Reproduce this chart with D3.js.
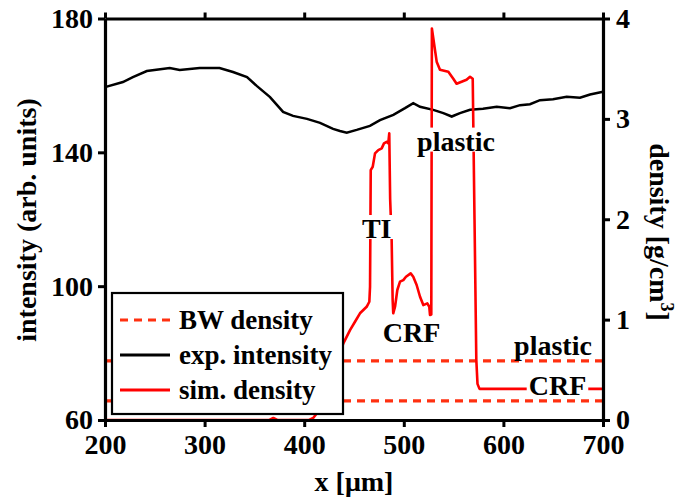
<!DOCTYPE html>
<html>
<head>
<meta charset="utf-8">
<script src="https://cdnjs.cloudflare.com/ajax/libs/d3/7.8.5/d3.min.js"></script>
<style>
  body { margin: 0; background: #fff; }
</style>
</head>
<body>
<svg width="680" height="498" font-family="Liberation Serif" font-weight="bold"></svg>
<script>
// experimental intensity (left axis)
var expX = [200, 218, 228, 242, 265, 275, 295, 315, 328.5, 342.6, 352.6, 365.7, 378.8, 388.8, 402.8,
  415.9, 429, 435.9, 442.7, 452.7, 466, 476.1, 489.5, 501.2, 509.5, 516.3, 529.6, 539.7, 548.1,
  556.4, 566.5, 579.5, 593.3, 606.6, 616.7, 626.7, 636.7, 649.8, 663.5, 676.9, 687, 700];
var expI = [159.5, 161.0, 162.5, 164.3, 165.2, 164.6, 165.2, 165.2, 164.0, 162.5, 159.8, 156.5, 152.1, 150.9, 150.0,
  148.8, 147.0, 146.4, 145.9, 146.7, 147.9, 149.6, 151.2, 153.2, 154.7, 153.6, 152.7, 151.7, 150.7,
  151.7, 152.7, 153.0, 153.6, 153.2, 154.1, 154.4, 155.6, 155.9, 156.6, 156.3, 157.3, 158.1];

// simulated density (right axis)
var simX = [200, 365, 369, 373, 405, 409, 413, 420, 430, 439.3, 446, 451, 456, 462.7, 465.4, 466.1,
  466.8, 468.8, 471.1, 474.4, 477.8, 480.1, 482.8, 484.4, 485.4, 486.3, 487.8, 488.8, 489.4,
  491.2, 493.5, 496.2, 499.5, 502.2, 506.9, 509.5, 512.9, 516.3, 519.6, 523.6, 525.6, 526.3,
  527.6, 528.2, 533, 536.3, 544.7, 549.7, 553, 558, 563, 566.5, 569.2, 571, 572.8, 574, 576, 700];
var simD = [0, 0, 0.02, 0, 0, 0.02, 0.07, 0.22, 0.48, 0.764, 0.896, 0.979, 1.063, 1.128, 1.178, 1.328,
  2.49, 2.523, 2.656, 2.689, 2.706, 2.756, 2.772, 2.756, 2.856, 2.2, 1.793, 1.195, 1.063,
  1.128, 1.295, 1.378, 1.394, 1.427, 1.461, 1.427, 1.345, 1.228, 1.145, 1.162, 1.128, 1.046,
  1.05, 3.90, 3.57, 3.49, 3.47, 3.40, 3.35, 3.37, 3.39, 3.42, 3.40, 2.0, 0.6, 0.36, 0.31, 0.31];

// bulk water density levels
var bwNames = ['plastic', 'CRF'];
var bwDensity = [0.59, 0.19];

var xTicks = [200, 300, 400, 500, 600, 700];
var leftTicks = [60, 100, 140, 180];
var rightTicks = [0, 1, 2, 3, 4];
var legendNames = ['BW density', 'exp. intensity', 'sim. density'];

var svg = d3.select('svg');
var font = 'Liberation Serif';

var x = d3.scaleLinear().domain([200, 700]).range([105, 603]);
var yL = d3.scaleLinear().domain([60, 180]).range([420, 18.5]);
var yR = d3.scaleLinear().domain([0, 4]).range([420, 18.5]);

var red = '#ff0000';
var dashRed = '#ff3010';

// BW dashed levels
svg.append('g')
  .selectAll('line')
  .data(bwDensity)
  .enter()
  .append('line')
  .attr('x1', x(200))
  .attr('x2', x(700))
  .attr('y1', function (d) { return yR(d); })
  .attr('y2', function (d) { return yR(d); })
  .attr('stroke', dashRed)
  .attr('stroke-width', 3.2)
  .attr('stroke-dasharray', '8,6');

var lineExp = d3.line()
  .x(function (d, i) { return x(expX[i]); })
  .y(function (d) { return yL(d); });

svg.append('path')
  .datum(expI)
  .attr('d', lineExp)
  .attr('fill', 'none')
  .attr('stroke', '#000')
  .attr('stroke-width', 2.5);

var lineSim = d3.line()
  .x(function (d, i) { return x(simX[i]); })
  .y(function (d) { return yR(d); });

svg.append('path')
  .datum(simD)
  .attr('d', lineSim)
  .attr('fill', 'none')
  .attr('stroke', red)
  .attr('stroke-width', 2.6)
  .attr('stroke-linejoin', 'round');

// labels with white background
function label(txt, dx, dy) {
  var g = svg.append('g');
  var t = g.append('text')
    .attr('x', x(dx))
    .attr('y', yR(dy))
    .attr('text-anchor', 'middle')
    .attr('font-size', 28)
    .text(txt);
  var b = t.node().getBBox();
  g.insert('rect', 'text')
    .attr('x', b.x - 2)
    .attr('y', b.y + 2)
    .attr('width', b.width + 4)
    .attr('height', b.height - 7)
    .attr('fill', '#fff');
}
label('TI', 472.8, 1.813);
label('plastic', 552.4, 2.684);
label('CRF', 507.7, 0.777);
label(bwNames[0], 649.8, 0.647);
label(bwNames[1], 654.3, 0.249);

// axes
function styleAxis(g) {
  g.attr('font-family', font);
  g.selectAll('path').attr('stroke-width', 3.2);
  g.selectAll('line').attr('stroke-width', 3);
  g.selectAll('text').attr('font-size', 28).attr('font-weight', 'bold').attr('fill', '#000');
}

svg.append('g')
  .attr('transform', 'translate(0,420)')
  .call(d3.axisBottom(x).tickValues(xTicks).tickSize(7).tickSizeOuter(0).tickPadding(7))
  .call(styleAxis);

svg.append('g')
  .attr('transform', 'translate(0,18.5)')
  .call(d3.axisTop(x).tickValues(xTicks).tickSize(6).tickSizeOuter(0).tickFormat(''))
  .call(styleAxis);

svg.append('g')
  .attr('transform', 'translate(105,0)')
  .call(d3.axisLeft(yL).tickValues(leftTicks).tickSize(7).tickSizeOuter(0).tickPadding(5))
  .call(styleAxis);

svg.append('g')
  .attr('transform', 'translate(603,0)')
  .call(d3.axisRight(yR).tickValues(rightTicks).tickSize(7).tickSizeOuter(0).tickPadding(6)
    .tickFormat(d3.format('d')))
  .call(styleAxis);

// axis titles
svg.append('text')
  .attr('transform', 'translate(36,220) rotate(-90)')
  .attr('text-anchor', 'middle')
  .attr('font-size', 28)
  .text('intensity (arb. units)');

var rt = svg.append('text')
  .attr('transform', 'translate(650,232) rotate(90)')
  .attr('text-anchor', 'middle')
  .attr('font-size', 28);
rt.append('tspan').text('density [g/cm');
rt.append('tspan').attr('font-size', 18).attr('dy', -11).text('3');
rt.append('tspan').attr('dy', 11).text(']');

svg.append('text')
  .attr('x', 354)
  .attr('y', 491)
  .attr('text-anchor', 'middle')
  .attr('font-size', 28)
  .text('x [μm]');

// legend
var leg = svg.append('g');
leg.append('rect')
  .attr('x', 112)
  .attr('y', 293)
  .attr('width', 231)
  .attr('height', 121)
  .attr('fill', '#fff')
  .attr('stroke', '#000')
  .attr('stroke-width', 2.2);

var legRows = leg.selectAll('g.row')
  .data(legendNames)
  .enter()
  .append('g')
  .attr('class', 'row')
  .attr('transform', function (d, i) { return 'translate(0,' + (320 + i * 35) + ')'; });

legRows.append('line')
  .attr('x1', 120)
  .attr('x2', 170)
  .attr('stroke', function (d, i) { return i == 1 ? '#000' : (i == 0 ? dashRed : red); })
  .attr('stroke-width', 3.2)
  .attr('stroke-dasharray', function (d, i) { return i == 0 ? '8,6' : null; });

legRows.append('text')
  .attr('x', 179)
  .attr('y', 9)
  .attr('font-size', 27)
  .text(function (d) { return d; });
</script>
</body>
</html>
